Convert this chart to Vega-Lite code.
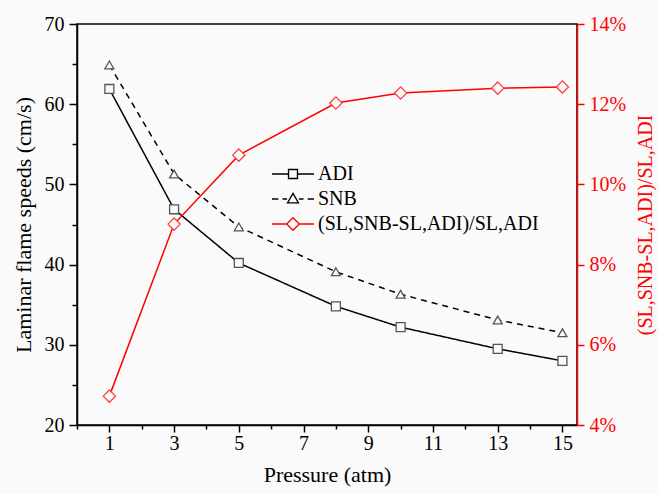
{
  "$schema": "https://vega.github.io/schema/vega-lite/v6.json",
  "width": 500,
  "height": 401,
  "autosize": {"type": "none"},
  "padding": {"left": 77, "top": 24, "right": 82, "bottom": 69},
  "background": "#fafafa",
  "config": {
    "font": "Liberation Serif",
    "view": {"stroke": "black", "strokeWidth": 1.5},
    "axis": {
      "grid": false,
      "domainColor": "black",
      "domainWidth": 1.5,
      "tickColor": "black",
      "tickWidth": 1.5,
      "labelFont": "Liberation Serif",
      "titleFont": "Liberation Serif",
      "labelFontSize": 20,
      "titleFontSize": 22,
      "labelColor": "black",
      "titleColor": "black",
      "titleFontWeight": "normal"
    },
    "legend": {"labelFont": "Liberation Serif"}
  },
  "datasets": {
    "speed": [
      {"p": 1, "series": "ADI", "speed": 61.9},
      {"p": 3, "series": "ADI", "speed": 46.9},
      {"p": 5, "series": "ADI", "speed": 40.2},
      {"p": 8, "series": "ADI", "speed": 34.8},
      {"p": 10, "series": "ADI", "speed": 32.2},
      {"p": 13, "series": "ADI", "speed": 29.5},
      {"p": 15, "series": "ADI", "speed": 28.0},
      {"p": 1, "series": "SNB", "speed": 64.9},
      {"p": 3, "series": "SNB", "speed": 51.3},
      {"p": 5, "series": "SNB", "speed": 44.7},
      {"p": 8, "series": "SNB", "speed": 39.1},
      {"p": 10, "series": "SNB", "speed": 36.3},
      {"p": 13, "series": "SNB", "speed": 33.1},
      {"p": 15, "series": "SNB", "speed": 31.5}
    ],
    "ratio": [
      {"p": 1, "series": "ratio", "ratio": 0.0472},
      {"p": 3, "series": "ratio", "ratio": 0.0901},
      {"p": 5, "series": "ratio", "ratio": 0.1073},
      {"p": 8, "series": "ratio", "ratio": 0.1203},
      {"p": 10, "series": "ratio", "ratio": 0.1228},
      {"p": 13, "series": "ratio", "ratio": 0.1240},
      {"p": 15, "series": "ratio", "ratio": 0.1243}
    ]
  },
  "encoding": {
    "x": {
      "field": "p",
      "type": "quantitative",
      "scale": {"domain": [0, 15.45], "nice": false, "zero": false},
      "axis": {
        "title": "Pressure (atm)",
        "values": [0, 1, 2, 3, 4, 5, 6, 7, 8, 9, 10, 11, 12, 13, 14, 15],
        "labelExpr": "datum.value % 2 == 1 ? datum.label : ''",
        "tickSize": {"condition": {"test": "datum.value % 2 == 1", "value": 7}, "value": 4},
        "labelPadding": 1,
        "titlePadding": 11
      }
    }
  },
  "layer": [
    {
      "data": {"name": "speed"},
      "layer": [
        {
          "mark": {"type": "line", "strokeWidth": 1.5},
          "encoding": {
            "y": {
              "field": "speed",
              "type": "quantitative",
              "scale": {"domain": [20, 70], "nice": false, "zero": false},
              "axis": {
                "title": "Laminar flame speeds (cm/s)",
                "values": [20, 25, 30, 35, 40, 45, 50, 55, 60, 65, 70],
                "labelExpr": "datum.value % 10 == 0 ? datum.label : ''",
                "tickSize": {"condition": {"test": "datum.value % 10 == 0", "value": 8}, "value": 5},
                "labelPadding": 5,
                "titlePadding": 9
              }
            },
            "color": {
              "field": "series",
              "type": "nominal",
              "scale": {"domain": ["ADI", "SNB", "ratio"], "range": ["black", "black", "red"]},
              "legend": {
                "title": null,
                "orient": "none",
                "legendX": 193,
                "legendY": 140,
                "labelFontSize": 20,
                "labelColor": "black",
                "labelLimit": 400,
                "symbolSize": 196,
                "symbolStrokeWidth": 1.3,
                "symbolOffset": 13,
                "labelOffset": 15,
                "rowPadding": 5,
                "labelExpr": "datum.value === 'ratio' ? '(SL,SNB-SL,ADI)/SL,ADI' : datum.label",
                "encode": {
                  "symbols": {
                    "update": {
                      "shape": {"signal": "datum.value === 'ADI' ? 'M-3,0H-0.64M0.64,0H3M-0.64,-0.64H0.64V0.64H-0.64Z' : datum.value === 'SNB' ? 'M-3,0H-2.1M-1.5,0H-0.85M0.85,0H1.5M2.1,0H3M0,-0.8L0.78,0.55H-0.78Z' : 'M-3,0H-0.9M0.9,0H3M0,-0.9L0.9,0L0,0.9L-0.9,0Z'"},
                      "stroke": {"signal": "datum.value === 'ratio' ? '#ff2a2a' : '#222222'"},
                      "fill": {"value": "#fafafa"},
                      "size": {"value": 196},
                      "strokeDash": {"value": []},
                      "opacity": {"value": 1}
                    }
                  }
                }
              }
            },
            "strokeDash": {
              "field": "series",
              "type": "nominal",
              "scale": {"domain": ["ADI", "SNB"], "range": [[1, 0], [6, 5]]},
              "legend": null
            }
          }
        },
        {
          "mark": {"type": "point", "filled": true, "fill": "#fafafa", "stroke": "#555555", "strokeWidth": 1.3, "size": 80, "opacity": 1},
          "encoding": {
            "y": {"field": "speed", "type": "quantitative"},
            "shape": {
              "field": "series",
              "type": "nominal",
              "scale": {"domain": ["ADI", "SNB"], "range": ["square", "triangle-up"]},
              "legend": null
            }
          }
        },
        {
          "data": {"values": [{"t": "RP-3/H₂O/O₂/N₂ flames"}]},
          "mark": {"type": "text", "align": "left", "baseline": "middle", "fontSize": 20, "font": "Liberation Serif", "color": "black"},
          "encoding": {
            "x": {"datum": 1.7},
            "y": {"datum": 67.6},
            "text": {"field": "t"}
          }
        },
        {
          "data": {"values": [{"t": "ϕ = 1.0, Tᵢₙ = 420 K"}]},
          "mark": {"type": "text", "align": "left", "baseline": "middle", "fontSize": 20, "font": "Liberation Serif", "color": "black"},
          "encoding": {
            "x": {"datum": 1.7},
            "y": {"datum": 63.5},
            "text": {"field": "t"}
          }
        }
      ]
    },
    {
      "data": {"name": "ratio"},
      "layer": [
        {
          "mark": {"type": "line", "strokeWidth": 1.5},
          "encoding": {
            "y": {
              "field": "ratio",
              "type": "quantitative",
              "scale": {"domain": [0.04, 0.14], "nice": false, "zero": false},
              "axis": {
                "orient": "right",
                "title": "(SL,SNB-SL,ADI)/SL,ADI",
                "titleAngle": 270,
                "titleBaseline": "top",
                "format": ".0%",
                "values": [0.04, 0.06, 0.08, 0.1, 0.12, 0.14],
                "domainColor": "red",
                "tickColor": "red",
                "labelColor": "red",
                "titleColor": "red",
                "tickSize": 7,
                "labelPadding": 5,
                "labelFontSize": 20,
                "titleFontSize": 20,
                "titlePadding": 10
              }
            },
            "color": {"field": "series", "type": "nominal"}
          }
        },
        {
          "mark": {"type": "point", "shape": "diamond", "filled": true, "fill": "#fafafa", "stroke": "#ff4040", "strokeWidth": 1.3, "size": 150, "opacity": 1},
          "encoding": {
            "y": {"field": "ratio", "type": "quantitative"}
          }
        }
      ]
    }
  ],
  "resolve": {"scale": {"y": "independent"}}
}
